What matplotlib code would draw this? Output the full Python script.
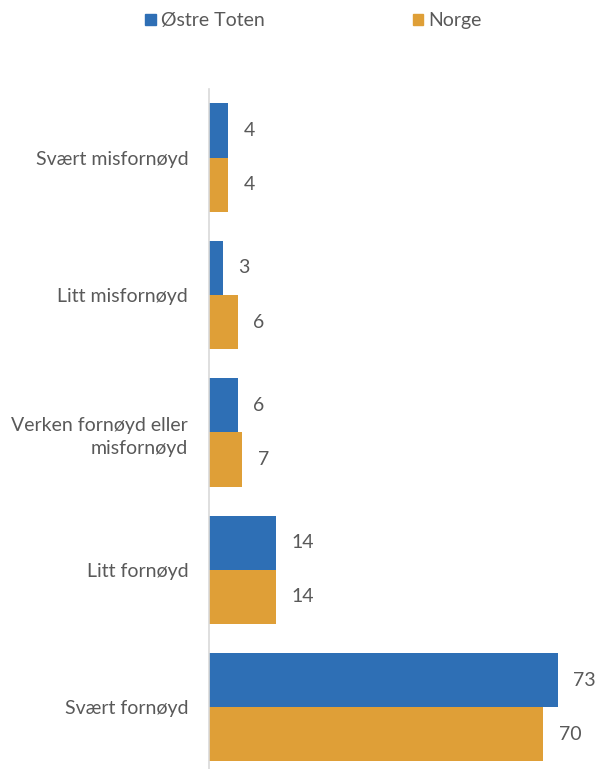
import numpy as np
from matplotlib import pyplot as plt
from matplotlib.patches import Patch

categories = ['Svært misfornøyd', 'Litt misfornøyd', 'Verken fornøyd eller\nmisfornøyd',
              'Litt fornøyd', 'Svært fornøyd']
ostre_toten = [4, 3, 6, 14, 73]
norge = [4, 6, 7, 14, 70]
series_names = ['Østre Toten', 'Norge']

blue = '#2E6FB5'
orange = '#DF9F37'
text_col = '#595959'

plt.rcParams['font.family'] = ['Lato', 'DejaVu Sans']
plt.rcParams['font.size'] = 14

fig = plt.figure(figsize=(5.96, 7.69), dpi=100)
ax = fig.add_axes([209 / 596, 0, 382 / 596, 680 / 769])

y = np.arange(len(categories))
h = 0.395
b1 = ax.barh(y - h / 2, ostre_toten, height=h, color=blue)
b2 = ax.barh(y + h / 2, norge, height=h, color=orange)

for bars in (b1, b2):
    ax.bar_label(bars, padding=11, color=text_col, fontsize=14)

ax.set_xlim(0, 80)
ax.set_ylim(4.45, -0.5)
ax.set_yticks(y)
ax.set_yticklabels(categories, color=text_col, fontsize=14, linespacing=1.4)
ax.tick_params(axis='y', length=0, pad=15)
ax.set_xticks([])
for s in ['top', 'right', 'bottom']:
    ax.spines[s].set_visible(False)
ax.spines['left'].set_color('#D9D9D9')
ax.spines['left'].set_linewidth(1.2)

handles = [Patch(color=blue, label=series_names[0]), Patch(color=orange, label=series_names[1])]
fig.legend(handles=handles, loc='center', bbox_to_anchor=(0.526, 0.973), ncol=2,
           frameon=False, handlelength=0.55, handleheight=0.55, handletextpad=0.25,
           columnspacing=7.6, labelcolor=text_col, fontsize=14)

fig.savefig('out.png', dpi=100)
